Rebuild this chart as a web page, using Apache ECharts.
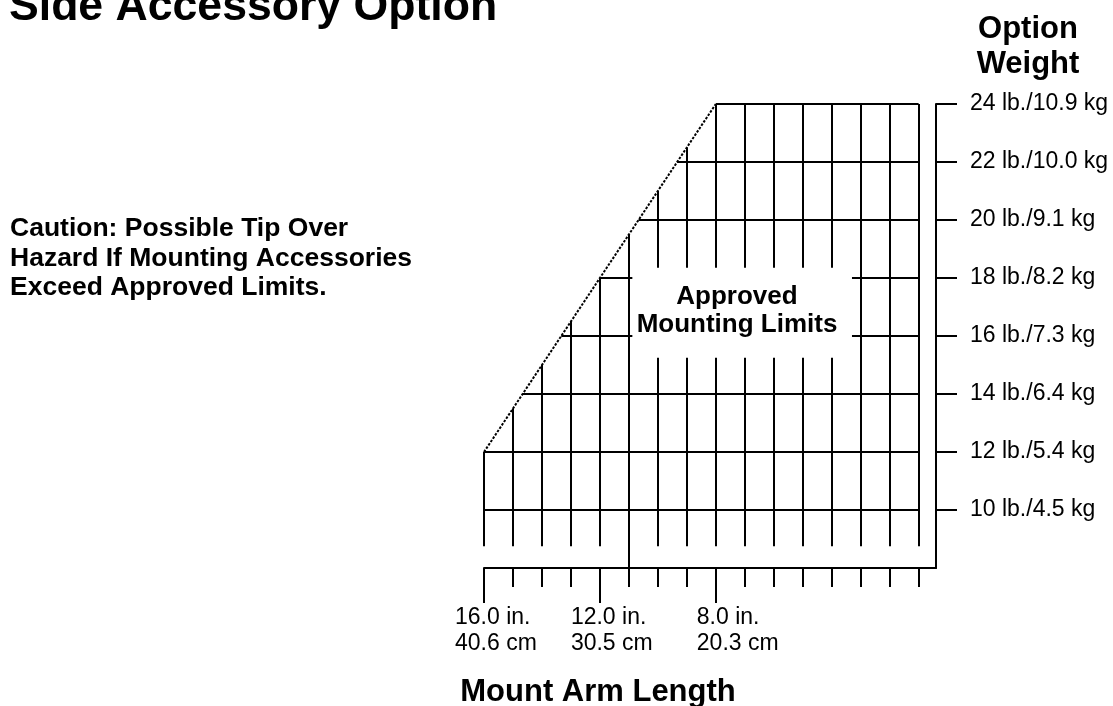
<!DOCTYPE html>
<html>
<head>
<meta charset="utf-8" />
<title>Side Accessory Option</title>
<script type="text/javascript" src="https://cdn.jsdelivr.net/npm/echarts@6/dist/echarts.min.js"></script>
<style>
	html, body { margin: 0; padding: 0; background: #fff; }
</style>
</head>
<body>
	<div id="chartmain" style="width: 1113px; height: 706px;"></div>
	<script type="text/javascript">
		// arm length ticks (in.) and weight rows (lb.)
		var lengths = [16, 15, 14, 13, 12, 11, 10, 9, 8, 7, 6, 5, 4, 3, 2, 1];
		var weights = [24, 22, 20, 18, 16, 14, 12, 10];
		var weightLabels = ['24 lb./10.9 kg', '22 lb./10.0 kg', '20 lb./9.1 kg', '18 lb./8.2 kg',
			'16 lb./7.3 kg', '14 lb./6.4 kg', '12 lb./5.4 kg', '10 lb./4.5 kg'];
		var labelLengths = [16, 12, 8];
		var labelInches = ['16.0 in.', '12.0 in.', '8.0 in.'];
		var labelCm = ['40.6 cm', '30.5 cm', '20.3 cm'];

		// approved limit edge: [length, weight]
		var limitStart = [16, 12];
		var limitEnd = [8, 24];
		var gridFloor = 8.75;     // where the grid stops
		var axisFloor = 8;        // ruler line
		var throughLength = 11;   // line that runs down to the ruler
		// hole in the grid for the "Approved Mounting Limits" text
		var boxLengths = [10.88, 3.3];
		var boxWeights = [15.25, 18.35];

		var FONT = '"Liberation Sans", Arial, Helvetica, sans-serif';

		var slope = (limitEnd[1] - limitStart[1]) / (limitStart[0] - limitEnd[0]);
		function weightAt(len) {
			return Math.min(limitEnd[1], limitStart[1] + (limitStart[0] - len) * slope);
		}
		function lengthAt(w) {
			if (w <= limitStart[1]) return limitStart[0];
			return limitStart[0] - (w - limitStart[1]) / slope;
		}

		var minLen = Math.min.apply(null, lengths);
		var segs = [];
		// horizontal rows
		weights.forEach(function (w) {
			var l0 = lengthAt(w);
			if (w > boxWeights[0] && w < boxWeights[1]) {
				segs.push({ coords: [[l0, w], [boxLengths[0], w]] });
				segs.push({ coords: [[boxLengths[1], w], [minLen, w]] });
			} else {
				segs.push({ coords: [[l0, w], [minLen, w]] });
			}
		});
		// vertical columns
		lengths.forEach(function (l) {
			var top = weightAt(l);
			var bot = (l === throughLength) ? axisFloor : gridFloor;
			if (l < throughLength && l > 3) {
				segs.push({ coords: [[l, bot], [l, boxWeights[0]]] });
				segs.push({ coords: [[l, boxWeights[1]], [l, top]] });
			} else {
				segs.push({ coords: [[l, bot], [l, top]] });
			}
		});

		var option = {
			animation: false,
			backgroundColor: '#fff',
			textStyle: { fontFamily: FONT, color: '#000' },
			grid: { left: 484, right: 177, top: 104, bottom: 138 },
			xAxis: [{
				type: 'value',
				min: 0.4,
				max: 16,
				inverse: true,
				position: 'bottom',
				splitLine: { show: false },
				axisLine: { onZero: false, lineStyle: { color: '#000', width: 2 } },
				axisTick: { customValues: lengths, length: 19, lineStyle: { color: '#000', width: 2 } },
				axisLabel: {
					customValues: labelLengths,
					align: 'left',
					verticalAlign: 'top',
					margin: 36,
					padding: [0, 0, 0, -29],
					fontSize: 23,
					lineHeight: 26.5,
					fontFamily: FONT,
					color: '#000',
					formatter: function (v) {
						var i = labelLengths.indexOf(v);
						if (i < 0) return '';
						var pre = String(Math.floor(v)).length === 1 ? '{s| }' : '';
						return pre + labelInches[i] + '\n' + pre + labelCm[i];
					},
					rich: { s: { width: 10, fontSize: 23, lineHeight: 26.5 } }
				}
			}, {
				type: 'value',
				min: 0.4,
				max: 16,
				inverse: true,
				position: 'bottom',
				splitLine: { show: false },
				axisLine: { show: false, onZero: false },
				axisTick: { customValues: labelLengths, length: 35, lineStyle: { color: '#000', width: 2 } },
				axisLabel: { show: false }
			}],
			yAxis: [{
				type: 'value',
				min: axisFloor,
				max: 24,
				position: 'right',
				splitLine: { show: false },
				axisLine: { onZero: false, lineStyle: { color: '#000', width: 2 } },
				axisTick: { customValues: weights, length: 21, lineStyle: { color: '#000', width: 2 } },
				axisLabel: {
					customValues: weights,
					margin: 34,
					fontSize: 23,
					fontFamily: FONT,
					color: '#000',
					padding: [2, 0, 0, 0],
					formatter: function (v) {
						var i = weights.indexOf(v);
						return i < 0 ? '' : weightLabels[i];
					}
				}
			}],
			series: [{
				type: 'lines',
				coordinateSystem: 'cartesian2d',
				xAxisIndex: 0,
				yAxisIndex: 0,
				silent: true,
				lineStyle: { color: '#000', width: 2, opacity: 1, curveness: 0 },
				data: segs
			}, {
				type: 'line',
				xAxisIndex: 0,
				yAxisIndex: 0,
				silent: true,
				symbol: 'none',
				lineStyle: { color: '#000', width: 2, type: [2.5, 1.5] },
				data: [limitStart, limitEnd]
			}],
			graphic: [{
				type: 'text', x: 9, y: 7.5,
				style: { text: 'Side Accessory Option', fontSize: 44.6, fontWeight: 'bold', fontFamily: FONT,
					fill: '#000', align: 'left', verticalAlign: 'middle' }
			}, {
				type: 'text', x: 1028, y: 47,
				style: { text: 'Option\nWeight', fontSize: 31, fontWeight: 'bold', fontFamily: FONT, lineHeight: 35,
					fill: '#000', align: 'center', verticalAlign: 'middle' }
			}, {
				type: 'text', x: 10, y: 258.5,
				style: { text: 'Caution: Possible Tip Over\nHazard If Mounting Accessories\nExceed Approved Limits.',
					fontSize: 26.5, fontWeight: 'bold', fontFamily: FONT, lineHeight: 29.5,
					fill: '#000', align: 'left', verticalAlign: 'middle' }
			}, {
				type: 'text', x: 737, y: 311,
				style: { text: 'Approved\nMounting Limits', fontSize: 26, fontWeight: 'bold', fontFamily: FONT, lineHeight: 28,
					fill: '#000', align: 'center', verticalAlign: 'middle' }
			}, {
				type: 'text', x: 598, y: 692,
				style: { text: 'Mount Arm Length', fontSize: 31, fontWeight: 'bold', fontFamily: FONT,
					fill: '#000', align: 'center', verticalAlign: 'middle' }
			}]
		};

		var myChart = echarts.init(document.getElementById('chartmain'));
		myChart.setOption(option);
	</script>
</body>
</html>
